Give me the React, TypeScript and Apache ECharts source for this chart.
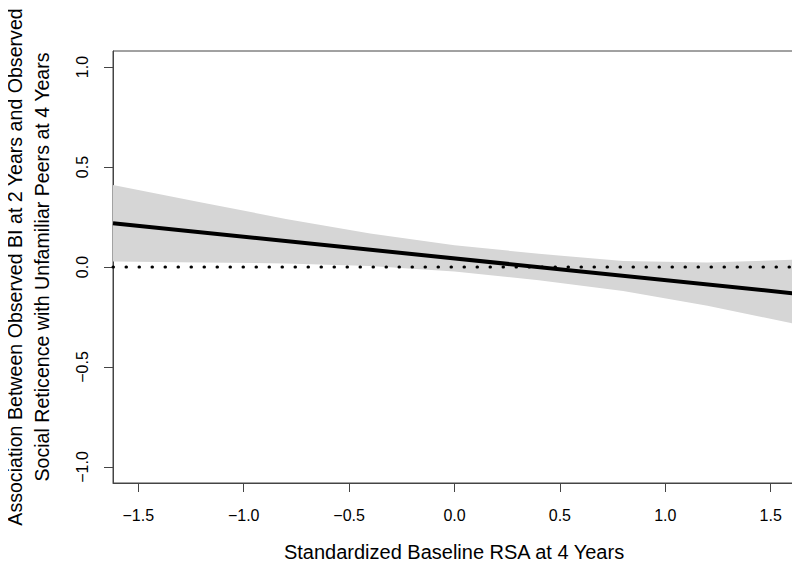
import React, { useEffect, useRef } from "react";
import * as echarts from "echarts";

// Confidence band for the simple slope
const bandX = [-1.62, -1.2, -0.8, -0.4, 0, 0.4, 0.8, 1.2, 1.62];
const bandUpper = [0.41, 0.323, 0.24, 0.167, 0.109, 0.066, 0.03, 0.022, 0.037];
const bandLower = [0.028, 0.023, 0.018, 0.005, -0.023, -0.066, -0.12, -0.194, -0.285];

// Fitted simple slope line (endpoints at plot edges)
const lineX = [-1.62, 1.62];
const lineY = [0.219, -0.133];

// Zero reference
const zeroX = [-1.62, 1.62];
const zeroY = [0, 0];

const xTicks = [-1.5, -1.0, -0.5, 0.0, 0.5, 1.0, 1.5];
const yTicks = [-1.0, -0.5, 0.0, 0.5, 1.0];

const xTitle = "Standardized Baseline RSA at 4 Years";
const yTitle1 = "Association Between Observed BI at 2 Years and Observed";
const yTitle2 = "Social Reticence with Unfamiliar Peers at 4 Years";

const FONT = "'Liberation Sans', Arial, Helvetica, sans-serif";

const fmt = (v: number) => (v < 0 ? "\u2212" : "") + Math.abs(v).toFixed(1);

export default function App() {
  const ref = useRef<HTMLDivElement>(null);
  useEffect(() => {
    if (!ref.current) return;
    const chart = echarts.init(ref.current, null, { renderer: "svg" });
    const bandData = bandX.map((x, i) => [x, bandUpper[i], bandLower[i]]);
    const option: any = {
      animation: false,
      backgroundColor: "#ffffff",
      textStyle: { fontFamily: FONT },
      grid: {
        left: 113,
        right: 4,
        top: 51,
        bottom: 86,
        show: true,
        borderColor: "#444",
        borderWidth: 1,
        backgroundColor: "transparent",
      },
      xAxis: {
        type: "value",
        min: -1.62,
        max: 1.62,
        splitLine: { show: false },
        axisLine: { show: true, onZero: false, lineStyle: { color: "#444", width: 1 } },
        axisTick: {
          show: true,
          inside: false,
          length: 9,
          customValues: xTicks,
          lineStyle: { color: "#444", width: 1 },
        },
        axisLabel: {
          customValues: xTicks,
          formatter: fmt,
          fontSize: 16,
          fontFamily: FONT,
          color: "#000",
          margin: 24,
        },
      },
      yAxis: {
        type: "value",
        min: -1.08,
        max: 1.08,
        splitLine: { show: false },
        axisLine: { show: true, onZero: false, lineStyle: { color: "#444", width: 1 } },
        axisTick: {
          show: true,
          inside: false,
          length: 9,
          customValues: yTicks,
          lineStyle: { color: "#444", width: 1 },
        },
        axisLabel: {
          customValues: yTicks,
          formatter: fmt,
          rotate: 90,
          fontSize: 16,
          fontFamily: FONT,
          color: "#000",
          margin: 23,
        },
      },
      graphic: [
        {
          type: "text",
          x: 454,
          y: 552,
          style: {
            text: xTitle,
            font: `20px ${FONT}`,
            fill: "#000",
            align: "center",
            verticalAlign: "middle",
          },
        },
        {
          type: "text",
          x: 15,
          y: 267,
          rotation: Math.PI / 2,
          style: {
            text: yTitle1,
            font: `19.6px ${FONT}`,
            fill: "#000",
            align: "center",
            verticalAlign: "middle",
          },
        },
        {
          type: "text",
          x: 42,
          y: 267,
          rotation: Math.PI / 2,
          style: {
            text: yTitle2,
            font: `19.6px ${FONT}`,
            fill: "#000",
            align: "center",
            verticalAlign: "middle",
          },
        },
      ],
      series: [
        {
          type: "custom",
          z: 1,
          data: bandData,
          encode: { x: 0, y: [1, 2] },
          renderItem: (params: any, api: any) => {
            if (params.dataIndex !== 0) return null;
            const up = bandData.map((d) => api.coord([d[0], d[1]]));
            const lo = bandData.map((d) => api.coord([d[0], d[2]])).reverse();
            return {
              type: "polygon",
              shape: { points: up.concat(lo) },
              style: { fill: "#d6d6d6", stroke: "none" },
            };
          },
        },
        {
          type: "line",
          z: 2,
          data: zeroX.map((x, i) => [x, zeroY[i]]),
          symbol: "none",
          lineStyle: { color: "#000", width: 3, type: [0.5, 12.5], cap: "round" },
        },
        {
          type: "line",
          z: 3,
          data: lineX.map((x, i) => [x, lineY[i]]),
          symbol: "none",
          lineStyle: { color: "#000", width: 4 },
        },
      ],
    };
    chart.setOption(option);
    return () => chart.dispose();
  }, []);
  return <div ref={ref} style={{ width: 800, height: 569, margin: -8 }} />;
}
